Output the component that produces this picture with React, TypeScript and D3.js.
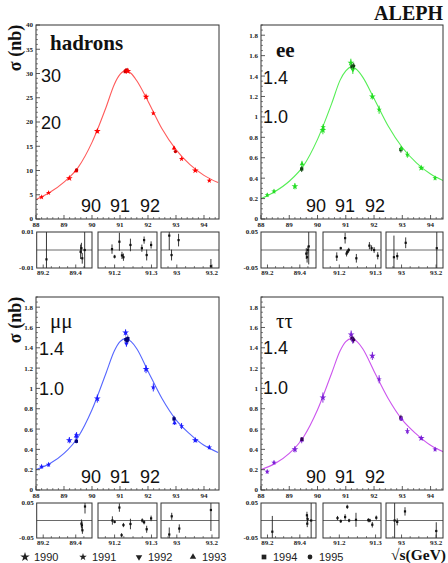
import React from 'react';
import * as d3 from 'd3';

const W = 448;
const H = 563;

const curveE = [88, 88.5, 89, 89.5, 90, 90.5, 90.8, 91, 91.2, 91.4, 91.6, 92, 92.5, 93, 93.5, 94, 94.5];
const hadronsCurve = [4.0, 5.5, 7.6, 10.6, 15.8, 23.0, 27.8, 29.8, 30.6, 30.0, 28.5, 24.3, 18.6, 14.3, 11.2, 9.0, 7.5];
const eeCurve = [0.2, 0.27, 0.37, 0.52, 0.78, 1.13, 1.36, 1.45, 1.49, 1.46, 1.39, 1.18, 0.91, 0.7, 0.55, 0.44, 0.37];
const mumuCurve = [0.2, 0.26, 0.36, 0.52, 0.79, 1.15, 1.37, 1.46, 1.49, 1.46, 1.39, 1.17, 0.9, 0.69, 0.55, 0.44, 0.37];
const tautauCurve = [0.2, 0.26, 0.36, 0.52, 0.79, 1.15, 1.37, 1.46, 1.49, 1.46, 1.39, 1.17, 0.9, 0.69, 0.55, 0.44, 0.37];

// measured cross sections
const hadronsE = [88.2, 88.45, 89.19, 89.43, 89.45, 90.19, 91.19, 91.22, 91.24, 91.28, 91.93, 92.19, 92.93, 92.98, 93.2, 93.69, 94.19];
const hadronsSigma = [4.5, 5.4, 8.4, 9.9, 10.1, 18.1, 30.4, 30.6, 30.7, 30.5, 25.2, 21.8, 14.6, 13.9, 12.4, 10.0, 7.9];
const hadronsErr = [0.2, 0.2, 0.2, 0.3, 0.2, 0.4, 0.3, 0.3, 0.3, 0.3, 0.4, 0.3, 0.4, 0.3, 0.2, 0.2, 0.2];
const hadronsYear = [1991, 1991, 1990, 1993, 1995, 1990, 1994, 1992, 1994, 1990, 1990, 1991, 1993, 1995, 1991, 1990, 1991];

const eeE = [88.22, 88.46, 89.2, 89.44, 89.45, 90.19, 90.2, 91.18, 91.22, 91.25, 91.28, 91.94, 92.18, 92.95, 92.97, 93.18, 93.67, 94.16];
const eeSigma = [0.235, 0.27, 0.32, 0.49, 0.54, 0.87, 0.9, 1.53, 1.49, 1.46, 1.5, 1.2, 1.07, 0.68, 0.69, 0.63, 0.5, 0.4];
const eeErr = [0.02, 0.02, 0.03, 0.03, 0.03, 0.04, 0.03, 0.04, 0.03, 0.04, 0.03, 0.03, 0.04, 0.03, 0.02, 0.03, 0.02, 0.02];
const eeYear = [1991, 1991, 1990, 1994, 1993, 1990, 1991, 1990, 1994, 1992, 1995, 1990, 1991, 1994, 1993, 1991, 1990, 1991];

const mumuE = [88.2, 88.45, 89.19, 89.43, 89.44, 89.45, 90.19, 91.2, 91.21, 91.23, 91.26, 91.28, 91.93, 92.19, 92.93, 92.95, 93.2, 93.69, 94.19];
const mumuSigma = [0.23, 0.25, 0.49, 0.53, 0.48, 0.54, 0.9, 1.55, 1.48, 1.44, 1.47, 1.49, 1.19, 1.01, 0.7, 0.66, 0.63, 0.49, 0.42];
const mumuErr = [0.02, 0.02, 0.03, 0.03, 0.02, 0.03, 0.04, 0.03, 0.03, 0.03, 0.02, 0.03, 0.04, 0.04, 0.03, 0.02, 0.03, 0.02, 0.02];
const mumuYear = [1991, 1991, 1990, 1993, 1994, 1991, 1990, 1990, 1994, 1992, 1995, 1994, 1990, 1991, 1994, 1993, 1991, 1990, 1991];

const tautauE = [88.22, 88.46, 89.2, 89.44, 89.45, 90.19, 91.19, 91.22, 91.25, 91.28, 91.94, 92.18, 92.95, 92.97, 93.18, 93.67, 94.16];
const tautauSigma = [0.18, 0.27, 0.4, 0.49, 0.5, 0.91, 1.53, 1.49, 1.47, 1.48, 1.32, 1.09, 0.71, 0.7, 0.58, 0.51, 0.4];
const tautauErr = [0.02, 0.02, 0.03, 0.03, 0.02, 0.05, 0.04, 0.03, 0.03, 0.03, 0.04, 0.04, 0.03, 0.02, 0.03, 0.02, 0.02];
const tautauYear = [1991, 1991, 1990, 1993, 1994, 1990, 1990, 1994, 1992, 1995, 1990, 1991, 1994, 1993, 1991, 1990, 1991];

// residuals in the three zoomed windows below each plot
const resDomains = [[89.16, 89.5], [91.155, 91.315], [92.91, 93.24]];
const resTicks = [[89.2, 89.4], [91.2, 91.3], [93, 93.2]];
const resTickLabels = [['89.2', '89.4'], ['91.2', '91.3'], ['93', '93.2']];
const resMinor = [0.05, 0.025, 0.05];

const hadronsResE = [89.22, 89.43, 89.435, 89.44, 89.455, 91.193, 91.2, 91.213, 91.22, 91.224, 91.243, 91.274, 91.28, 91.287, 91.299, 92.957, 92.97, 93.01, 93.194];
const hadronsRes = [-0.0052, -0.001, 0.001, -0.0046, 0.0, 0.0005, -0.0037, 0.0046, -0.003, -0.004, 0.0028, 0.001, 0.0055, -0.0028, 0.0028, 0.008, -0.0028, 0.0055, -0.009];
const hadronsResErr = [0.02, 0.004, 0.003, 0.003, 0.03, 0.0026, 0.001, 0.005, 0.002, 0.002, 0.0035, 0.002, 0.002, 0.003, 0.002, 0.008, 0.003, 0.0035, 0.004];

const eeResE = [89.44, 89.445, 89.45, 89.455, 91.193, 91.204, 91.216, 91.22, 91.223, 91.226, 91.247, 91.283, 91.289, 91.296, 91.306, 92.956, 92.975, 93.024, 93.204];
const eeRes = [-0.01, -0.02, 0.0, 0.01, -0.0185, 0.005, 0.033, -0.01, -0.005, 0.0, -0.023, 0.012, 0.005, 0.0, -0.016, -0.02, -0.017, 0.02, 0.005];
const eeResErr = [0.015, 0.015, 0.01, 0.05, 0.012, 0.004, 0.015, 0.008, 0.006, 0.006, 0.012, 0.01, 0.008, 0.008, 0.01, 0.06, 0.01, 0.015, 0.06];

const mumuResE = [89.435, 89.438, 89.441, 89.457, 91.194, 91.2, 91.213, 91.219, 91.224, 91.243, 91.275, 91.28, 91.287, 91.299, 92.957, 92.971, 93.014, 93.194];
const mumuRes = [-0.009, -0.014, -0.028, 0.04, 0.0, -0.004, 0.037, -0.042, -0.013, -0.01, 0.0, -0.005, -0.025, 0.006, -0.04, 0.012, -0.023, 0.03];
const mumuResErr = [0.012, 0.012, 0.01, 0.02, 0.012, 0.004, 0.012, 0.006, 0.006, 0.015, 0.006, 0.006, 0.01, 0.008, 0.02, 0.01, 0.012, 0.06];

const tautauResE = [89.23, 89.444, 89.446, 89.448, 89.47, 91.195, 91.204, 91.216, 91.222, 91.227, 91.246, 91.28, 91.284, 91.291, 91.302, 92.96, 92.975, 93.02, 93.201];
const tautauRes = [-0.032, 0.015, -0.009, 0.004, 0.0, 0.007, -0.002, 0.01, 0.039, 0.0, 0.002, 0.001, 0.0, -0.012, 0.008, 0.0, -0.004, 0.026, -0.03];
const tautauResErr = [0.045, 0.01, 0.01, 0.01, 0.06, 0.006, 0.005, 0.008, 0.006, 0.005, 0.02, 0.006, 0.005, 0.008, 0.006, 0.06, 0.01, 0.012, 0.025];

const legendYears = [1990, 1991, 1992, 1993, 1994, 1995];

const serif = '"Liberation Serif", "Times New Roman", serif';
const sans = '"Liberation Sans", Arial, sans-serif';

const layout = [
  {
    id: 'had', left: 36, top: 25, width: 183, height: 194, xMax: 94.536, yMax: 40, yStep: 5, yMinor: 1,
    resTop: 232, resBottom: 268, resMax: 0.01, resX: [[36.7, 92], [98, 157], [161, 219]],
    name: 'hadrons', nameBold: true, nameDx: 14, nameDy: 25, big: ['30', '20'], bigDy: [57, 104], bigDx: 5,
    color: '#ff0000', dark: '#cc0000', curveColor: '#ff5a5a',
    E: hadronsE, sigma: hadronsSigma, err: hadronsErr, year: hadronsYear, curve: hadronsCurve,
    resE: hadronsResE, res: hadronsRes, resErr: hadronsResErr, ylabel: true,
  },
  {
    id: 'ee', left: 261, top: 25, width: 182, height: 194, xMax: 94.44, yMax: 1.9, yStep: 0.2, yMinor: 0.05,
    resTop: 232, resBottom: 268, resMax: 0.05, resX: [[261, 316], [323, 381], [386, 443]],
    name: 'ee', nameBold: true, nameDx: 15, nameDy: 32, big: ['1.4', '1.0'], bigDy: [59, 98], bigDx: 2,
    color: '#22dd22', dark: '#114411', curveColor: '#55ee55',
    E: eeE, sigma: eeSigma, err: eeErr, year: eeYear, curve: eeCurve,
    resE: eeResE, res: eeRes, resErr: eeResErr, ylabel: false,
  },
  {
    id: 'mm', left: 36, top: 297, width: 183, height: 193, xMax: 94.536, yMax: 1.9, yStep: 0.2, yMinor: 0.05,
    resTop: 503, resBottom: 538, resMax: 0.05, resX: [[36.7, 92], [98, 157], [161, 219]],
    name: 'μμ', nameBold: false, nameDx: 14, nameDy: 31, big: ['1.4', '1.0'], bigDy: [58, 98], bigDx: 3,
    color: '#1a1aff', dark: '#000077', curveColor: '#5566ff',
    E: mumuE, sigma: mumuSigma, err: mumuErr, year: mumuYear, curve: mumuCurve,
    resE: mumuResE, res: mumuRes, resErr: mumuResErr, ylabel: true,
  },
  {
    id: 'tt', left: 261, top: 297, width: 182, height: 193, xMax: 94.44, yMax: 1.9, yStep: 0.2, yMinor: 0.05,
    resTop: 503, resBottom: 538, resMax: 0.05, resX: [[261, 316], [323, 381], [386, 443]],
    name: 'ττ', nameBold: false, nameDx: 15, nameDy: 31, big: ['1.4', '1.0'], bigDy: [57, 97], bigDx: 2,
    color: '#7a1fd6', dark: '#330055', curveColor: '#cc55ee',
    E: tautauE, sigma: tautauSigma, err: tautauErr, year: tautauYear, curve: tautauCurve,
    resE: tautauResE, res: tautauRes, resErr: tautauResErr, ylabel: false,
  },
];

const symbolType = (yr: number) => {
  if (yr === 1990 || yr === 1991) return d3.symbolStar;
  if (yr === 1992 || yr === 1993) return d3.symbolTriangle;
  if (yr === 1994) return d3.symbolSquare;
  return d3.symbolCircle;
};
const symbolSize = (yr: number) => (yr === 1990 ? 14 : yr === 1991 ? 9 : yr === 1994 ? 11 : 9);
const symbolPath = (yr: number, scale = 1) => d3.symbol().type(symbolType(yr)).size(symbolSize(yr) * scale)() as string;

const fmtY = (v: number) => String(+v.toFixed(2));

function Panel({ p }: { p: any }) {
  const x = d3.scaleLinear().domain([88, p.xMax]).range([p.left, p.left + p.width]);
  const y = d3.scaleLinear().domain([0, p.yMax]).range([p.top + p.height, p.top]);
  const bottom = p.top + p.height;

  const line = d3.line<number>()
    .x((_, i) => x(curveE[i]))
    .y((d) => y(d))
    .curve(d3.curveMonotoneX);

  const yMajor = d3.range(0, p.yMax + 1e-9, p.yStep);
  const yMinor = d3.range(0, p.yMax + 1e-9, p.yMinor).filter((v) => Math.abs(v / p.yStep - Math.round(v / p.yStep)) > 1e-6);
  const xMajor = d3.range(88, p.xMax + 1e-9, 1);
  const xMinor = d3.range(88, p.xMax, 0.2).filter((v) => Math.abs(v - Math.round(v)) > 1e-6);

  const ry = d3.scaleLinear().domain([-p.resMax, p.resMax]).range([p.resBottom, p.resTop]);
  const clipId = `clip-${p.id}`;

  return (
    <g>
      <defs>
        <clipPath id={clipId}>
          <rect x={p.left} y={p.top} width={p.width} height={p.height} />
        </clipPath>
        {p.resX.map((r: number[], k: number) => (
          <clipPath id={`${clipId}-r${k}`} key={k}>
            <rect x={r[0]} y={p.resTop} width={r[1] - r[0]} height={p.resBottom - p.resTop} />
          </clipPath>
        ))}
      </defs>

      {/* curve */}
      <path d={line(p.curve) as string} fill="none" stroke={p.curveColor} strokeWidth={1.1} clipPath={`url(#${clipId})`} />

      {/* points */}
      <g clipPath={`url(#${clipId})`}>
        {p.E.map((e: number, i: number) => {
          const yr = p.year[i];
          const c = yr >= 1994 ? p.dark : p.color;
          return (
            <g key={i}>
              <line x1={x(e)} x2={x(e)} y1={y(p.sigma[i] - p.err[i])} y2={y(p.sigma[i] + p.err[i])} stroke={c} strokeWidth={0.9} />
              <path d={symbolPath(yr)} fill={c}
                transform={`translate(${x(e)},${y(p.sigma[i])})${yr === 1992 ? ' rotate(180)' : ''}`} />
            </g>
          );
        })}
      </g>

      {/* frame and ticks */}
      <rect x={p.left} y={p.top} width={p.width} height={p.height} fill="none" stroke="#333" strokeWidth={1} />
      {yMajor.map((v) => (
        <g key={`ym${v}`}>
          <line x1={p.left} x2={p.left + 4} y1={y(v)} y2={y(v)} stroke="#333" strokeWidth={0.8} />
          <text x={p.left - 3} y={y(v)} dy="0.35em" textAnchor="end" fontFamily={serif} fontWeight="bold" fontSize={7} fill="#222">
            {fmtY(v)}
          </text>
        </g>
      ))}
      {yMinor.map((v) => (
        <line key={`yn${v}`} x1={p.left} x2={p.left + 2} y1={y(v)} y2={y(v)} stroke="#333" strokeWidth={0.6} />
      ))}
      {xMajor.map((v) => (
        <g key={`xm${v}`}>
          <line x1={x(v)} x2={x(v)} y1={bottom} y2={bottom - 4} stroke="#333" strokeWidth={0.8} />
          <text x={x(v)} y={bottom + 7.5} textAnchor="middle" fontFamily={serif} fontWeight="bold" fontSize={7} fill="#222">
            {v}
          </text>
        </g>
      ))}
      {xMinor.map((v) => (
        <line key={`xn${v}`} x1={x(v)} x2={x(v)} y1={bottom} y2={bottom - 2} stroke="#333" strokeWidth={0.6} />
      ))}

      {/* labels inside the panel */}
      <text x={p.left + p.nameDx} y={p.top + p.nameDy} fontFamily={serif} fontWeight={p.nameBold ? 'bold' : 'normal'} fontSize={21} fill="#111">
        {p.name}
      </text>
      {p.big.map((t: string, k: number) => (
        <text key={t} x={p.left + p.bigDx} y={p.top + p.bigDy[k]} fontFamily={sans} fontSize={18} fill="#111">{t}</text>
      ))}
      {['90', '91', '92'].map((t, k) => (
        <text key={t} x={p.left + [55, 84, 114][k]} y={bottom - 7} textAnchor="middle" fontFamily={sans} fontSize={18} fill="#111">{t}</text>
      ))}

      {p.ylabel && (
        <text transform={`translate(21,${p.top + 23}) rotate(-90)`} textAnchor="middle" fontFamily={serif} fontWeight="bold" fontSize={18} fill="#111">
          σ (nb)
        </text>
      )}

      {/* residual windows */}
      {p.resX.map((r: number[], k: number) => {
        const rx = d3.scaleLinear().domain(resDomains[k]).range(r);
        const minor = d3.range(Math.ceil(resDomains[k][0] / resMinor[k]) * resMinor[k], resDomains[k][1], resMinor[k])
          .filter((v) => !resTicks[k].some((t) => Math.abs(t - v) < 1e-6));
        const idx = p.resE.map((_: number, i: number) => i)
          .filter((i: number) => p.resE[i] >= resDomains[k][0] && p.resE[i] <= resDomains[k][1]);
        return (
          <g key={`r${k}`}>
            <line x1={r[0]} x2={r[1]} y1={ry(0)} y2={ry(0)} stroke="#444" strokeWidth={0.8} />
            <g clipPath={`url(#${clipId}-r${k})`}>
              {idx.map((i: number) => (
                <g key={i}>
                  <line x1={rx(p.resE[i])} x2={rx(p.resE[i])} y1={ry(p.res[i] - p.resErr[i])} y2={ry(p.res[i] + p.resErr[i])}
                    stroke="#222" strokeWidth={0.9} />
                  <rect x={rx(p.resE[i]) - 1.1} y={ry(p.res[i]) - 1.1} width={2.2} height={2.2} fill="#111" />
                </g>
              ))}
            </g>
            <rect x={r[0]} y={p.resTop} width={r[1] - r[0]} height={p.resBottom - p.resTop} fill="none" stroke="#333" strokeWidth={1} />
            {resTicks[k].map((t, j) => (
              <g key={t}>
                <line x1={rx(t)} x2={rx(t)} y1={p.resBottom} y2={p.resBottom - 3.5} stroke="#333" strokeWidth={0.8} />
                <text x={rx(t)} y={p.resBottom + 6.5} textAnchor="middle" fontFamily={serif} fontWeight="bold" fontSize={7} fill="#222">
                  {resTickLabels[k][j]}
                </text>
              </g>
            ))}
            {minor.map((t) => (
              <line key={t} x1={rx(t)} x2={rx(t)} y1={p.resBottom} y2={p.resBottom - 2} stroke="#333" strokeWidth={0.6} />
            ))}
          </g>
        );
      })}
      <text x={p.resX[0][0] - 3} y={p.resTop} dy="0.35em" textAnchor="end" fontFamily={serif} fontWeight="bold" fontSize={7} fill="#222">
        {fmtY(p.resMax)}
      </text>
      <text x={p.resX[0][0] - 3} y={p.resBottom} dy="0.35em" textAnchor="end" fontFamily={serif} fontWeight="bold" fontSize={7} fill="#222">
        {fmtY(-p.resMax)}
      </text>
    </g>
  );
}

export default function App() {
  const legendMarkX = [25, 83, 139, 193, 264, 310];
  return (
    <svg width={W} height={H} style={{ position: 'absolute', left: 0, top: 0, background: '#fff' }}>
      <rect x={0} y={0} width={W} height={H} fill="#fff" />
      <text x={443} y={20} textAnchor="end" fontFamily={serif} fontWeight="bold" fontSize={20} fill="#111">ALEPH</text>
      {layout.map((p) => (
        <Panel key={p.id} p={p} />
      ))}
      {legendYears.map((yr, i) => (
        <g key={yr}>
          <path d={symbolPath(yr, 2)} fill="#222"
            transform={`translate(${legendMarkX[i]},557)${yr === 1992 ? ' rotate(180)' : ''}`} />
          <text x={legendMarkX[i] + 9} y={557} dy="0.35em" fontFamily={sans} fontSize={11} fill="#222">{yr}</text>
        </g>
      ))}
      <text x={446} y={559.5} textAnchor="end" fontFamily={serif} fontWeight="bold" fontSize={15.5} fill="#111">√s(GeV)</text>
    </svg>
  );
}
